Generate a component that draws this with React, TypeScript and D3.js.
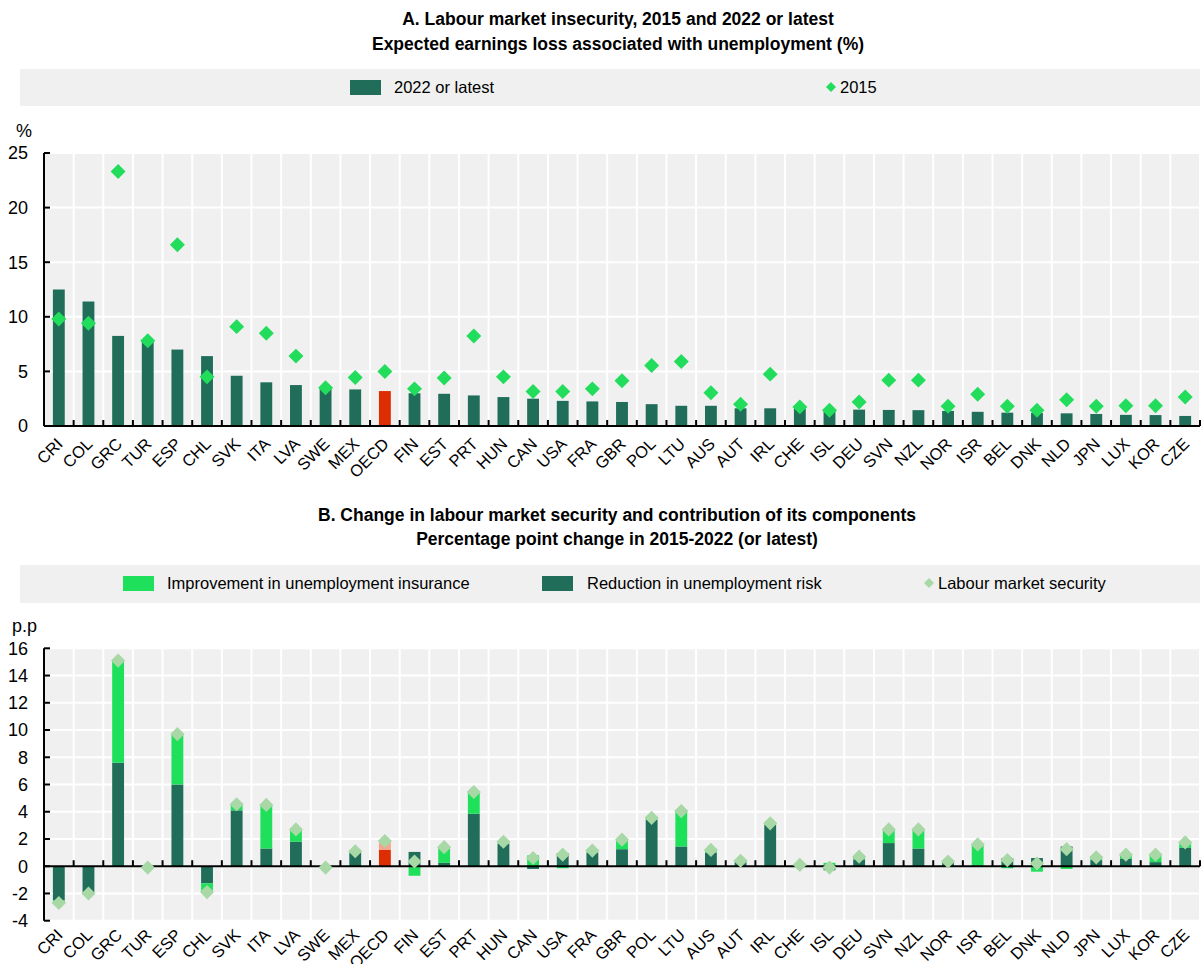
import React from 'react';
import * as d3 from 'd3';

const countries = ['CRI','COL','GRC','TUR','ESP','CHL','SVK','ITA','LVA','SWE','MEX','OECD','FIN','EST','PRT','HUN','CAN','USA','FRA','GBR','POL','LTU','AUS','AUT','IRL','CHE','ISL','DEU','SVN','NZL','NOR','ISR','BEL','DNK','NLD','JPN','LUX','KOR','CZE'];

// Panel A
const latest2022 = [12.5,11.4,8.25,7.7,7.0,6.4,4.6,4.0,3.75,3.5,3.35,3.2,3.0,2.95,2.8,2.65,2.5,2.3,2.25,2.2,2.0,1.85,1.85,1.62,1.62,1.6,1.55,1.5,1.47,1.45,1.38,1.3,1.22,1.2,1.16,1.1,1.02,1.0,0.92];
const v2015 = [9.8,9.4,23.3,7.8,16.6,4.5,9.1,8.5,6.4,3.5,4.45,5.0,3.4,4.4,8.25,4.5,3.15,3.15,3.4,4.15,5.55,5.9,3.05,2.0,4.75,1.75,1.45,2.2,4.2,4.2,1.8,2.9,1.8,1.45,2.4,1.8,1.85,1.85,2.65];
const ticksA = [0,5,10,15,20,25];

// Panel B
const riskReduction = [-2.5,-1.9,7.6,0,6.0,-1.25,4.1,1.3,1.8,0,1.0,1.2,1.05,0.25,3.85,1.65,-0.2,0.95,1.0,1.25,3.4,1.45,1.0,0.3,3.05,0.05,-0.3,0.5,1.7,1.3,0.25,0.05,0.6,0.6,1.45,0.45,0.55,0.3,1.35];
const insuranceImprovement = [-0.2,-0.1,7.5,-0.1,3.7,-0.65,0.45,3.2,0.9,-0.1,0.1,0.65,-0.7,1.15,1.6,0.15,0.8,-0.15,0.15,0.7,0.15,2.6,0.2,0.1,0.1,0.05,0.25,0.2,1.0,1.4,0.1,1.55,-0.15,-0.4,-0.2,0.2,0.3,0.55,0.4];
const securityChange = [-2.7,-2.0,15.1,-0.1,9.7,-1.9,4.55,4.5,2.7,-0.1,1.1,1.85,0.35,1.4,5.45,1.8,0.6,0.85,1.15,1.95,3.55,4.05,1.2,0.4,3.15,0.1,-0.1,0.7,2.7,2.7,0.35,1.6,0.45,0.2,1.25,0.65,0.85,0.85,1.75];
const ticksB = [-4,-2,0,2,4,6,8,10,12,14,16];

const DARK = '#206E5A';
const LIGHT = '#1FE05A';
const DIAMOND_A = '#22DC5C';
const DIAMOND_B = '#A8D8A6';
const RED = '#DE2D00';
const SALMON = '#F5A58E';
const BG = '#F0F0F0';
const FONT = '"Liberation Sans Narrow", "Arial Narrow", "Liberation Sans", Arial, sans-serif';

const LEFT = 44, RIGHT = 1200;

const diamond = (size: number) => d3.symbol().type(d3.symbolSquare).size(size)() as string;

function Grid({ y, ticks, top, bottom, x }: any) {
  const bounds = countries.map((_, i) => LEFT + i * x.step()).concat([RIGHT]);
  return (
    <g>
      <rect x={LEFT} y={top} width={RIGHT - LEFT} height={bottom - top} fill={BG} />
      {ticks.map((t: number) => (
        <line key={'h' + t} x1={LEFT} x2={RIGHT} y1={y(t)} y2={y(t)} stroke="#fff" strokeWidth={2} />
      ))}
      {bounds.slice(1).map((b: number, i: number) => (
        <line key={'v' + i} x1={b} x2={b} y1={top} y2={bottom} stroke="#fff" strokeWidth={2} />
      ))}
    </g>
  );
}

function YAxis({ y, ticks, top, bottom }: any) {
  return (
    <g fontFamily={FONT} fontSize={18} fill="#000">
      <line x1={LEFT} x2={LEFT} y1={top} y2={bottom} stroke="#000" strokeWidth={2} />
      {ticks.map((t: number) => (
        <g key={t}>
          <line x1={LEFT} x2={LEFT + 6} y1={y(t)} y2={y(t)} stroke="#000" strokeWidth={2} />
          <text x={28} y={y(t)} dy="0.35em" textAnchor="end">{t}</text>
        </g>
      ))}
    </g>
  );
}

function XAxis({ x, y0, labelY }: any) {
  const bounds = countries.map((_, i) => LEFT + i * x.step()).concat([RIGHT]);
  return (
    <g fontFamily={FONT} fontSize={16.5}>
      <line x1={LEFT} x2={RIGHT} y1={y0} y2={y0} stroke="#000" strokeWidth={2} />
      {bounds.map((b: number, i: number) => (
        <line key={'t' + i} x1={b} x2={b} y1={y0} y2={y0 - 6} stroke="#000" strokeWidth={2} />
      ))}
      {countries.map((c) => {
        const cx = (x(c) as number) + x.bandwidth() / 2;
        return (
          <text key={c} transform={`translate(${cx + 5},${labelY}) rotate(-45)`} textAnchor="end">{c}</text>
        );
      })}
    </g>
  );
}

export default function App() {
  const x = d3.scaleBand<string>().domain(countries).range([LEFT, RIGHT]);
  const bw = x.bandwidth();
  const barW = bw * 0.4;

  const yA = d3.scaleLinear().domain([0, 25]).range([426, 153]);
  const yB = d3.scaleLinear().domain([-4, 16]).range([920.7, 648.3]);

  const rows = countries.map((c, i) => ({ c, risk: riskReduction[i], ins: insuranceImprovement[i] }));
  const stacked = d3.stack<any>().keys(['risk', 'ins']).offset(d3.stackOffsetDiverging)(rows);

  const dA = diamond(112);
  const dB = diamond(100);

  return (
    <svg width={1204} height={964} style={{ position: 'absolute', left: 0, top: 0 }} fontFamily={FONT}>
      <rect width={1204} height={964} fill="#fff" />
      {/* Panel A titles */}
      <g fontWeight="bold" fontSize={17.5} textAnchor="middle">
        <text x={618} y={25}>A. Labour market insecurity, 2015 and 2022 or latest</text>
        <text x={618} y={50}>Expected earnings loss associated with unemployment (%)</text>
      </g>
      {/* Legend A */}
      <rect x={20} y={69} width={1180} height={37} fill={BG} />
      <rect x={350} y={80} width={31} height={15} fill={DARK} />
      <text x={394} y={93} fontSize={16.5}>2022 or latest</text>
      <path d={diamond(50)} transform={`translate(831,87) rotate(45)`} fill={DIAMOND_A} />
      <text x={840} y={93} fontSize={16.5}>2015</text>

      <text x={24} y={137} fontSize={18} textAnchor="middle">%</text>
      <Grid y={yA} ticks={ticksA} top={153} bottom={426} x={x} />
      {countries.map((c, i) => (
        <rect key={'a' + c} x={(x(c) as number) + (bw - barW) / 2} y={yA(latest2022[i])} width={barW}
          height={yA(0) - yA(latest2022[i])} fill={c === 'OECD' ? RED : DARK} />
      ))}
      <YAxis y={yA} ticks={ticksA} top={153} bottom={426} />
      <XAxis x={x} y0={426} labelY={445} />
      {countries.map((c, i) => (
        <path key={'da' + c} d={dA} transform={`translate(${(x(c) as number) + bw / 2},${yA(v2015[i])}) rotate(45)`} fill={DIAMOND_A} />
      ))}

      {/* Panel B titles */}
      <g fontWeight="bold" fontSize={17.5} textAnchor="middle">
        <text x={617} y={521}>B. Change in labour market security and contribution of its components</text>
        <text x={617} y={545}>Percentage point change in 2015-2022 (or latest)</text>
      </g>
      <rect x={20} y={565} width={1180} height={38} fill={BG} />
      <rect x={123} y={576} width={31} height={15} fill={LIGHT} />
      <text x={167} y={589} fontSize={16.5}>Improvement in unemployment insurance</text>
      <rect x={542} y={576} width={31} height={15} fill={DARK} />
      <text x={587} y={589} fontSize={16.5}>Reduction in unemployment risk</text>
      <path d={diamond(50)} transform={`translate(929,583) rotate(45)`} fill={DIAMOND_B} />
      <text x={938} y={589} fontSize={16.5}>Labour market security</text>

      <text x={12} y={632} fontSize={18}>p.p</text>
      <Grid y={yB} ticks={ticksB} top={648.3} bottom={920.7} x={x} />
      {stacked.map((layer: any) => layer.map((seg: any, i: number) => {
        const c = countries[i];
        const isO = c === 'OECD';
        const fill = layer.key === 'risk' ? (isO ? RED : DARK) : (isO ? SALMON : LIGHT);
        const y0 = yB(seg[0]), y1 = yB(seg[1]);
        return (
          <rect key={layer.key + c} x={(x(c) as number) + (bw - barW) / 2} y={Math.min(y0, y1)} width={barW}
            height={Math.abs(y1 - y0)} fill={fill} />
        );
      }))}
      <YAxis y={yB} ticks={ticksB} top={648.3} bottom={920.7} />
      <XAxis x={x} y0={yB(0)} labelY={936} />
      {countries.map((c, i) => (
        <path key={'db' + c} d={dB} transform={`translate(${(x(c) as number) + bw / 2},${yB(securityChange[i])}) rotate(45)`} fill={DIAMOND_B} />
      ))}
    </svg>
  );
}
